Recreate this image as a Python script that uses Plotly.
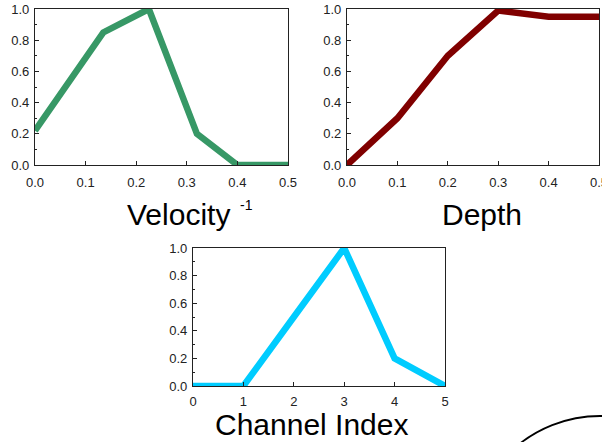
import plotly.graph_objects as go

W, H = 620, 442

# Data
vel_x = [0.0, 0.135, 0.225, 0.32, 0.4, 0.5]
vel_y = [0.22, 0.85, 1.0, 0.2, 0.0, 0.0]
depth_x = [0.0, 0.1, 0.2, 0.3, 0.4, 0.5]
depth_y = [0.0, 0.3, 0.7, 0.99, 0.95, 0.95]
chan_x = [0, 1, 2, 3, 4, 5]
chan_y = [0.0, 0.0, 0.5, 1.0, 0.2, 0.0]
x_ticks_frac = [0.0, 0.1, 0.2, 0.3, 0.4, 0.5]
x_ticks_int = [0, 1, 2, 3, 4, 5]
y_ticks = [0.0, 0.2, 0.4, 0.6, 0.8, 1.0]

def px_x(p):
    return p / W

def px_y(p):
    return 1 - p / H

fig = go.Figure()

fig.add_trace(go.Scatter(x=vel_x, y=vel_y, mode="lines",
                         line=dict(color="#379866", width=6.5), xaxis="x", yaxis="y"))
fig.add_trace(go.Scatter(x=depth_x, y=depth_y, mode="lines",
                         line=dict(color="#800000", width=6.5), xaxis="x2", yaxis="y2"))
fig.add_trace(go.Scatter(x=chan_x, y=chan_y, mode="lines",
                         line=dict(color="#00ccff", width=6.5), xaxis="x3", yaxis="y3"))

tickfont = dict(family="Liberation Sans, Arial, sans-serif", size=13, color="#222222")

def xax(dom, anchor, rng, ticks, fmt, standoff=5):
    return dict(domain=dom, anchor=anchor, range=rng, tickvals=ticks, tickformat=fmt,
                showgrid=False, zeroline=False, showline=True, linecolor="#222222",
                linewidth=1.2, mirror=True, ticks="inside", ticklen=4, tickcolor="#222222",
                tickfont=tickfont, ticklabelstandoff=standoff, fixedrange=True, automargin=False)

def yax(dom, anchor):
    return dict(domain=dom, anchor=anchor, range=[0, 1], tickvals=y_ticks, tickformat=".1f",
                showgrid=False, zeroline=False, showline=True, linecolor="#222222",
                linewidth=1.2, mirror=True, ticks="inside", ticklen=4, tickcolor="#222222",
                minor=dict(dtick=0.1, ticks="inside", ticklen=2, tickcolor="#222222"),
                tickfont=tickfont, ticklabelstandoff=2, fixedrange=True, automargin=False)

fig.update_layout(
    width=W, height=H,
    margin=dict(l=0, r=0, t=0, b=0, autoexpand=False),
    paper_bgcolor="white", plot_bgcolor="white",
    showlegend=False,
    xaxis=xax([px_x(35), px_x(288)], "y", [0, 0.5], x_ticks_frac, ".1f"),
    yaxis=yax([px_y(165), px_y(9)], "x"),
    xaxis2=xax([px_x(347), px_x(599)], "y2", [0, 0.5], x_ticks_frac, ".1f"),
    yaxis2=yax([px_y(165), px_y(9)], "x2"),
    xaxis3=xax([px_x(193), px_x(445)], "y3", [0, 5], x_ticks_int, "d", standoff=3),
    yaxis3=yax([px_y(386), px_y(248)], "x3"),
)

titlefont = dict(family="Liberation Sans, Arial, sans-serif", size=30, color="#000000")
fig.add_annotation(xref="paper", yref="paper", showarrow=False, font=titlefont,
                   text="Velocity", x=px_x(178), y=px_y(214), xanchor="center", yanchor="middle")
fig.add_annotation(xref="paper", yref="paper", showarrow=False, font=titlefont,
                   text="Depth", x=px_x(482), y=px_y(214), xanchor="center", yanchor="middle")
fig.add_annotation(xref="paper", yref="paper", showarrow=False, font=titlefont,
                   text="Channel Index", x=px_x(311), y=px_y(442), xanchor="center",
                   yanchor="bottom", borderpad=0)
fig.add_annotation(xref="paper", yref="paper", showarrow=False, text="-1",
                   x=px_x(246), y=px_y(205), xanchor="center", yanchor="middle",
                   font=dict(family="Liberation Sans, Arial, sans-serif", size=14, color="#000000"))

# decorative arc at the bottom right
cx, cy, R = 600, 546, 130
fig.add_shape(type="circle", xref="paper", yref="paper",
              x0=px_x(cx - R), x1=px_x(cx + R), y0=px_y(cy + R), y1=px_y(cy - R),
              line=dict(color="black", width=1.8))

fig.write_html("out.html", config={"displayModeBar": False},
               post_script="document.body.style.margin='0px';document.body.style.overflow='hidden';")
